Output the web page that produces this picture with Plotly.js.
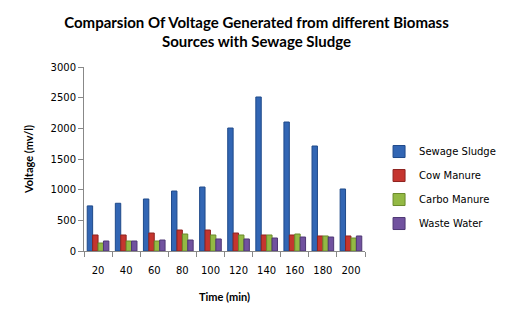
<!DOCTYPE html>
<html>
<head>
<meta charset="utf-8">
<script src="https://cdn.plot.ly/plotly-3.0.1.min.js"></script>
<style>html,body{margin:0;padding:0;background:#fff;}#chart{width:513px;height:325px;}</style>
</head>
<body>
<div id="chart"></div>
<script>
const categories = ["20","40","60","80","100","120","140","160","180","200"];
const seriesNames = ["Sewage Sludge","Cow Manure","Carbo Manure","Waste Water"];
const sewageSludge = [735,778,848,978,1043,2005,2511,2103,1712,1011];
const cowManure    = [261,261,293,342,342,293,261,261,245,245];
const carboManure  = [130,163,163,277,261,261,261,277,245,212];
const wasteWater   = [163,163,179,179,196,196,212,228,228,245];

const values = [sewageSludge, cowManure, carboManure, wasteWater];
const colors = ["#3266b4","#c5352f","#93b944","#71529f"];
const lines  = ["#1f4a8a","#8e2320","#6a8a2a","#4e3774"];

const traces = values.map((v,i)=>({
  type:"bar", x:categories, y:v, name:seriesNames[i],
  legendgroup:"g"+i,
  marker:{color:colors[i], line:{color:lines[i], width:1}}
}));

const layout = {
  width:513, height:325,
  margin:{l:84, r:129, t:67, b:74},
  paper_bgcolor:"#fff", plot_bgcolor:"#fff",
  font:{family:"DejaVu Sans, sans-serif", size:10, color:"#000"},
  title:{text:"<b>Comparsion Of Voltage Generated from different Biomass<br>Sources with Sewage Sludge</b>",
    font:{family:"Lato, sans-serif", size:15, color:"#000"}, x:0.5, xanchor:"center", y:0.915, yanchor:"top"},
  barmode:"group", bargap:0.23, bargroupgap:0,
  xaxis:{type:"category", showline:true, linecolor:"#888", linewidth:1,
    ticks:"outside", tickson:"boundaries", ticklen:5, tickcolor:"#888", tickangle:0,
    ticklabelstandoff:10,
    tickfont:{family:"DejaVu Sans, sans-serif", size:10}, showgrid:false,
    title:{text:"<b>Time (min)</b>", font:{family:"Lato, sans-serif", size:11}, standoff:18}},
  yaxis:{range:[0,3000], dtick:500, showline:true, linecolor:"#888", linewidth:1,
    ticks:"outside", ticklen:5, tickcolor:"#888", showgrid:false, zeroline:false,
    tickfont:{family:"DejaVu Sans, sans-serif", size:10},
    title:{text:"<b>Voltage (mv/l)</b>", font:{family:"Lato, sans-serif", size:11}, standoff:14}},
  legend:{x:1.05, xanchor:"left", y:0.345, yanchor:"middle", tracegroupgap:5,
    font:{family:"DejaVu Sans, sans-serif", size:10}, itemwidth:30},
  showlegend:true
};

Plotly.newPlot("chart", traces, layout, {displayModeBar:false, staticPlot:true});
</script>
</body>
</html>
